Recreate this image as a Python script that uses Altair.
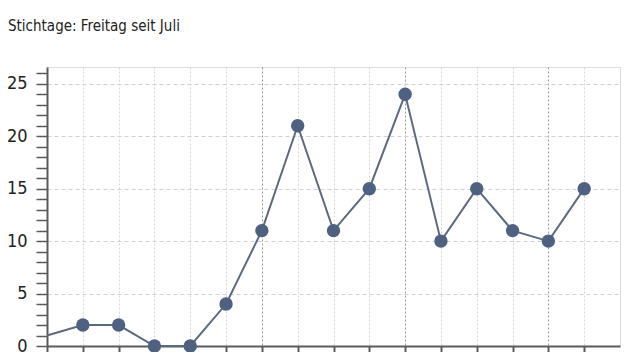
import altair as alt
import pandas as pd

# ---- data ----
week_index = list(range(16))
cases = [1, 2, 2, 0, 0, 4, 11, 21, 11, 15, 24, 10, 15, 11, 10, 15]
has_marker = [False] + [True] * 15
month_marks = [6, 10, 14]
y_tick_values = list(range(0, 27))
y_label_step = 5

title_text = "Verlauf der COVID-19 Fälle im Landkreis Forchheim"
subtitle_text = "Stichtage: Freitag seit Juli"

df = pd.DataFrame({"i": week_index, "n": cases, "m": has_marker})

FONT = "DejaVu Sans Condensed, Liberation Sans Narrow, sans-serif"
AXIS_COLOR = "#5a5a5a"

month_test = " || ".join(f"datum.value == {v}" for v in month_marks)

x_enc = alt.X(
    "i:Q",
    scale=alt.Scale(domain=[0, 16], nice=False, zero=False),
    axis=alt.Axis(
        values=week_index,
        tickCount=len(week_index),
        labels=False,
        title=None,
        tickSize=16,
        tickWidth=2,
        tickColor=AXIS_COLOR,
        domainColor=AXIS_COLOR,
        domainWidth=2,
        grid=True,
        gridColor={"condition": {"test": month_test, "value": "#9a9a9a"}, "value": "#d4d4d4"},
        gridDash=[2, 2],
        gridWidth=1,
    ),
)

y_enc = alt.Y(
    "n:Q",
    scale=alt.Scale(domain=[0, 26.6], nice=False, zero=True),
    axis=alt.Axis(
        values=y_tick_values,
        tickCount=len(y_tick_values),
        labelExpr=f"datum.value % {y_label_step} == 0 ? datum.label : ''",
        labelOverlap=False,
        title=None,
        tickSize=11,
        tickWidth=1.5,
        tickColor=AXIS_COLOR,
        domainColor=AXIS_COLOR,
        domainWidth=2,
        labelFont=FONT,
        labelFontSize=18,
        labelColor="#222222",
        labelPadding=9,
        grid=True,
        gridColor="#d0d0d0",
        gridDash=[4, 3],
        gridWidth=1,
        gridOpacity={"condition": {"test": f"datum.value % {y_label_step} == 0 && datum.value > 0", "value": 1}, "value": 0},
    ),
)

line = alt.Chart(df).mark_line(color="#5b6a80", strokeWidth=2).encode(x=x_enc, y=y_enc)
points = (
    alt.Chart(df)
    .transform_filter("datum.m")
    .mark_circle(size=180, color="#4e6180", opacity=1)
    .encode(x="i:Q", y="n:Q")
)

chart = (
    alt.layer(line, points)
    .properties(
        width=573,
        height=279,
        autosize=alt.AutoSizeParams(type="none"),
        padding={"left": 39, "top": 59, "right": 10, "bottom": 6},
        title=alt.TitleParams(
            text=title_text,
            subtitle=subtitle_text,
            anchor="start",
            frame="group",
            dx=-39,
            offset=29,
            font=FONT,
            fontSize=17,
            fontWeight="bold",
            color="#111111",
            subtitleFont=FONT,
            subtitleFontSize=15,
            subtitleColor="#222222",
            subtitlePadding=8,
        ),
    )
    .configure_view(stroke=None)
    .configure(background="white")
)

chart.save("out.html", embed_options={"renderer": "svg", "actions": False})
